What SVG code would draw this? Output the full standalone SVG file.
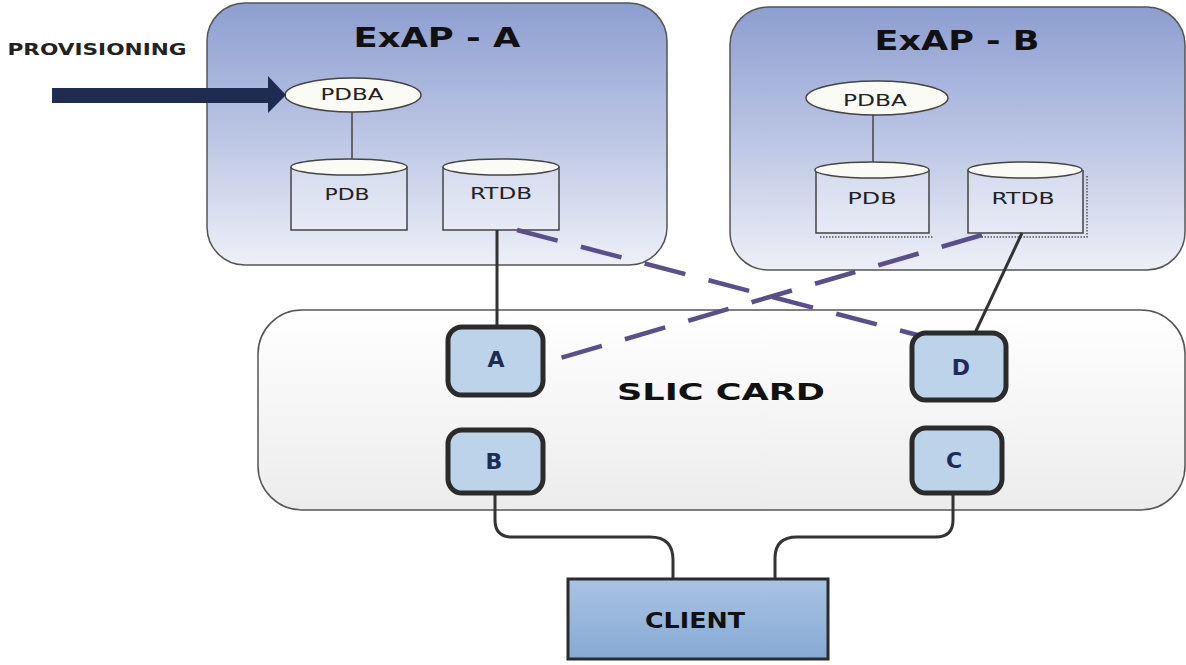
<svg xmlns="http://www.w3.org/2000/svg" width="1186" height="665" viewBox="0 0 1186 665">
  <defs>
    <linearGradient id="exapFill" x1="0" y1="0" x2="0" y2="1">
      <stop offset="0" stop-color="#8d9ed0"/>
      <stop offset="0.5" stop-color="#bbc5e4"/>
      <stop offset="1" stop-color="#eef0f7"/>
    </linearGradient>
    <linearGradient id="cardFill" x1="0" y1="0" x2="0" y2="1">
      <stop offset="0" stop-color="#ffffff"/>
      <stop offset="1" stop-color="#ececec"/>
    </linearGradient>
    <linearGradient id="clientFill" x1="0" y1="0" x2="0" y2="1">
      <stop offset="0" stop-color="#a9c3e2"/>
      <stop offset="1" stop-color="#86aad4"/>
    </linearGradient>
    <style>
      .container { stroke: #555; stroke-width: 1.5; }
      .title { font-family: "DejaVu Sans", "Liberation Sans", sans-serif; font-weight: bold; fill: #111; text-anchor: middle; }
      .small { font-family: "DejaVu Sans", "Liberation Sans", sans-serif; fill: #222; text-anchor: middle; }
      .db-body { fill: #ffffff; fill-opacity: 0.25; stroke: #444; stroke-width: 1.5; }
      .db-top { fill: #fbfbf6; stroke: #444; stroke-width: 1.5; }
      .shadow { fill: none; stroke: #555; stroke-width: 1.5; stroke-dasharray: 1.5 1.5; }
      .port rect { fill: #bcd3ea; stroke: #2b2b2b; stroke-width: 5; }
      .port text { font-family: "DejaVu Sans", "Liberation Sans", sans-serif; font-weight: bold; font-size: 22px; fill: #1e2b55; text-anchor: middle; }
      .link { fill: none; stroke: #333; stroke-width: 3; }
      .thin { fill: none; stroke: #444; stroke-width: 1.5; }
      .cross { fill: none; stroke: #5a4e8e; stroke-width: 4.5; stroke-dasharray: 42 24; }
    </style>
  </defs>

  <rect width="1186" height="665" fill="#ffffff"/>

  <!-- ExAP - A -->
  <g id="exap-a">
    <rect class="container" x="207" y="3" width="460" height="262" rx="38" fill="url(#exapFill)"/>
    <text class="title" x="437" y="47" font-size="26" textLength="167" lengthAdjust="spacingAndGlyphs">ExAP - A</text>
    <g id="pdba-a">
      <ellipse class="db-top" cx="353" cy="95" rx="68" ry="17"/>
      <text class="small" x="352" y="100" font-size="15" textLength="63" lengthAdjust="spacingAndGlyphs">PDBA</text>
    </g>
    <g id="pdb-a">
      <path class="db-body" d="M291,167 V230 H407 V167"/>
      <ellipse class="db-top" cx="349" cy="167" rx="58" ry="8"/>
      <text class="small" x="347" y="200" font-size="16" textLength="45" lengthAdjust="spacingAndGlyphs">PDB</text>
    </g>
    <g id="rtdb-a">
      <path class="db-body" d="M443,167 V230 H559 V167"/>
      <ellipse class="db-top" cx="501" cy="167" rx="58" ry="8"/>
      <text class="small" x="501" y="199" font-size="16" textLength="62" lengthAdjust="spacingAndGlyphs">RTDB</text>
    </g>
  </g>

  <!-- Provisioning input, drawn over the ExAP - A frame -->
  <g id="provisioning">
    <text class="small" x="97" y="55" font-size="15" font-weight="bold" textLength="179" lengthAdjust="spacingAndGlyphs">PROVISIONING</text>
    <polygon points="52,88 268,88 268,76 286,95 268,113 268,103 52,103" fill="#1f2b50"/>
  </g>

  <!-- ExAP - B -->
  <g id="exap-b">
    <rect class="container" x="730" y="7" width="455" height="263" rx="38" fill="url(#exapFill)"/>
    <text class="title" x="957" y="50" font-size="27" textLength="165" lengthAdjust="spacingAndGlyphs">ExAP - B</text>
    <g id="pdba-b">
      <ellipse class="db-top" cx="877" cy="98" rx="71" ry="17"/>
      <text class="small" x="875" y="106" font-size="15" textLength="64" lengthAdjust="spacingAndGlyphs">PDBA</text>
    </g>
    <g id="pdb-b">
      <path class="shadow" d="M820,237 H933"/>
      <path class="db-body" d="M816,170 V233 H929 V170"/>
      <ellipse class="db-top" cx="872" cy="170" rx="57" ry="8"/>
      <text class="small" x="872" y="204" font-size="16" textLength="49" lengthAdjust="spacingAndGlyphs">PDB</text>
    </g>
    <g id="rtdb-b">
      <path class="shadow" d="M1087,176 V237 H972"/>
      <path class="db-body" d="M968,170 V233 H1083 V170"/>
      <ellipse class="db-top" cx="1025" cy="170" rx="57" ry="8"/>
      <text class="small" x="1023" y="204" font-size="16" textLength="63" lengthAdjust="spacingAndGlyphs">RTDB</text>
    </g>
  </g>

  <!-- SLIC CARD -->
  <g id="slic-card">
    <rect class="container" x="258" y="310" width="927" height="200" rx="44" fill="url(#cardFill)"/>
    <text class="title" x="721" y="400" font-size="23" textLength="208" lengthAdjust="spacingAndGlyphs">SLIC CARD</text>
  </g>

  <!-- Connectors -->
  <g id="connectors">
    <line class="thin" x1="352" y1="112" x2="352" y2="159"/>
    <line class="thin" x1="873" y1="115" x2="873" y2="162"/>
    <line class="link" x1="497" y1="230" x2="497" y2="327"/>
    <line class="link" x1="1022" y1="233" x2="975" y2="333"/>
    <line class="cross" x1="517" y1="230" x2="925" y2="337"/>
    <line class="cross" x1="982" y1="235" x2="540" y2="364"/>
    <path class="link" d="M495,493 V520 Q495,537 512,537 H650 Q673,537 673,560 V579"/>
    <path class="link" d="M953,493 V520 Q953,537 936,537 H797 Q775,537 775,558 V579"/>
  </g>

  <!-- SLIC card ports -->
  <g id="port-a" class="port">
    <rect x="448" y="327" width="95" height="68" rx="14"/>
    <text x="496" y="367" font-size="24">A</text>
  </g>
  <g id="port-b" class="port">
    <rect x="448" y="430" width="95" height="63" rx="14"/>
    <text x="494" y="469">B</text>
  </g>
  <g id="port-d" class="port">
    <rect x="912" y="333" width="94" height="67" rx="14"/>
    <text x="961" y="375">D</text>
  </g>
  <g id="port-c" class="port">
    <rect x="912" y="428" width="90" height="65" rx="14"/>
    <text x="954" y="468">C</text>
  </g>

  <!-- Client -->
  <g id="client">
    <rect x="568" y="579" width="260" height="80" fill="url(#clientFill)" stroke="#2b2b2b" stroke-width="3"/>
    <text class="title" x="695" y="628" font-size="22" fill="#1a1a2e" textLength="100" lengthAdjust="spacingAndGlyphs">CLIENT</text>
  </g>
</svg>
